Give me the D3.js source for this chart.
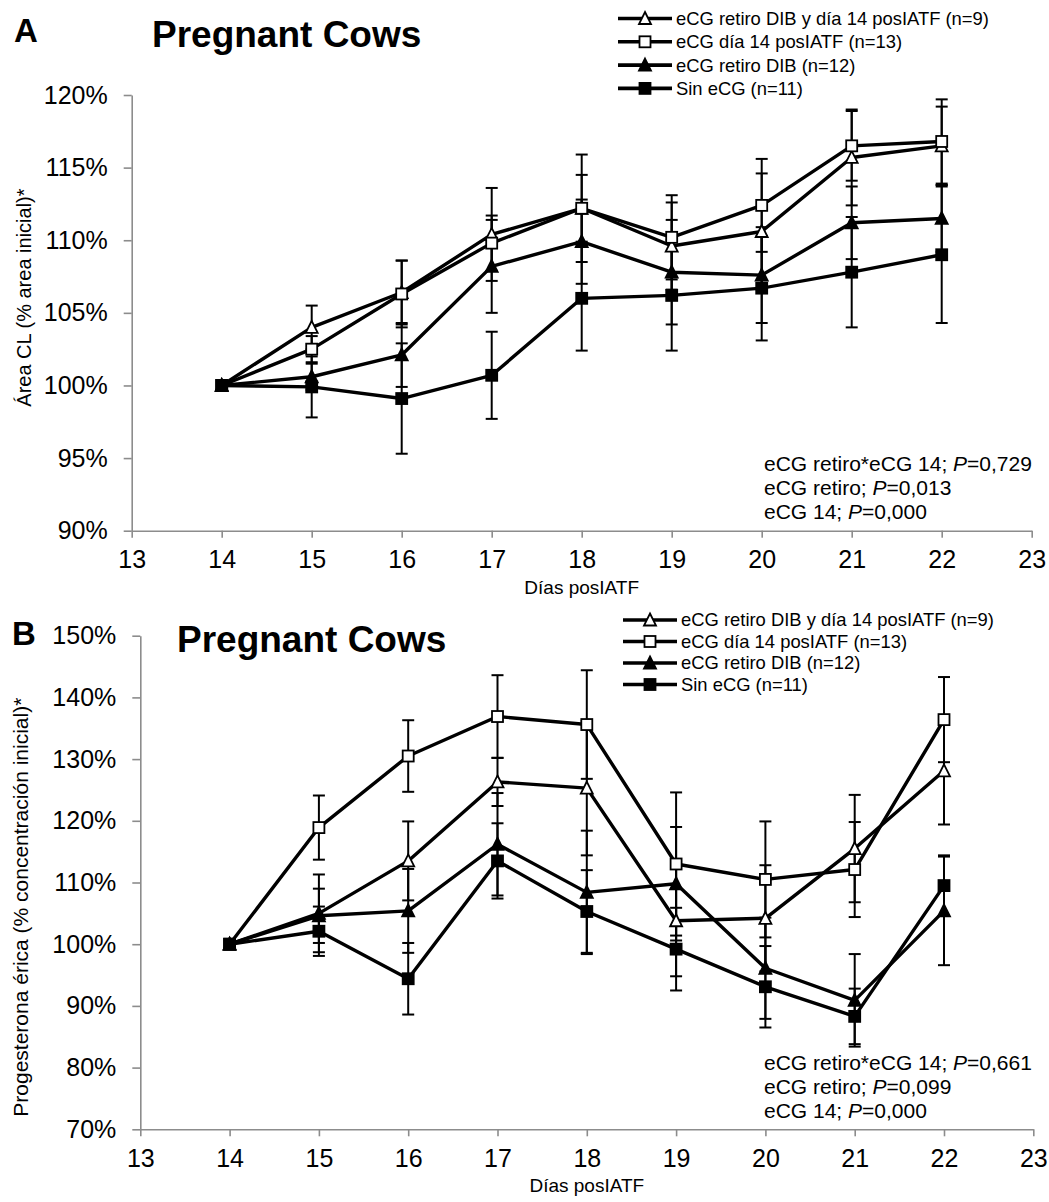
<!DOCTYPE html>
<html>
<head>
<meta charset="utf-8">
<script src="https://cdn.jsdelivr.net/npm/d3@7"></script>
<style>
  body { margin: 0; background: #fff; }
  svg { font-family: "Liberation Sans", Arial, sans-serif; display: block; }
  .axis path, .axis line { stroke: #8c8c8c; stroke-width: 1.6px; }
  .axis text { font-size: 25px; fill: #000; font-family: "Liberation Sans", Arial, sans-serif; }
</style>
</head>
<body>
<svg id="chart"></svg>
<script>
const width = 1049;
const height = 1202;

const days = [14, 15, 16, 17, 18, 19, 20, 21, 22];
const seriesNames = [
  "eCG retiro DIB y día 14 posIATF (n=9)",
  "eCG día 14 posIATF (n=13)",
  "eCG retiro DIB (n=12)",
  "Sin eCG (n=11)"
];
const seriesMarkers = ["triangleOpen", "squareOpen", "triangleFilled", "squareFilled"];

// Panel A: área del CL (% área inicial)
const areaBoth = [100, 104.0, 106.4, 110.4, 112.2, 109.6, 110.6, 115.7, 116.5];
const areaDay14 = [100, 102.5, 106.3, 109.8, 112.2, 110.2, 112.4, 116.5, 116.8];
const areaRetiro = [100, 100.6, 102.1, 108.2, 109.9, 107.8, 107.6, 111.2, 111.5];
const areaSin = [100, 99.9, 99.1, 100.7, 106.0, 106.2, 106.7, 107.8, 109.0];
const areaBothErr = [0, 1.5, 2.2, 3.2, 2.3, 3.0, 4.0, 3.3, 2.7];
const areaDay14Err = [0, 0.9, 2.3, 1.9, 3.7, 2.9, 3.2, 2.4, 2.9];
const areaRetiroErr = [0, 0.9, 2.2, 3.2, 2.9, 3.6, 3.3, 2.5, 2.3];
const areaSinErr = [0, 2.1, 3.8, 3.0, 3.6, 3.8, 3.6, 3.8, 4.7];

// Panel B: progesterona sérica (% concentración inicial)
const p4Both = [100, 105.0, 113.5, 126.3, 125.3, 103.8, 104.2, 115.5, 128.1];
const p4Day14 = [100, 118.9, 130.5, 136.9, 135.6, 113.0, 110.5, 112.1, 136.4];
const p4Retiro = [100, 104.6, 105.4, 116.2, 108.4, 109.8, 96.1, 90.9, 105.4];
const p4Sin = [100, 102.1, 94.4, 113.5, 105.3, 99.2, 93.1, 88.3, 109.5];
const p4BothErr = [0, 6.3, 6.4, 3.9, 10.9, 9.0, 8.6, 8.7, 8.7];
const p4Day14Err = [0, 5.2, 5.8, 6.7, 8.8, 11.6, 9.4, 7.7, 6.9];
const p4RetiroErr = [0, 4.4, 6.8, 8.3, 10.0, 9.2, 8.2, 7.5, 8.8];
const p4SinErr = [0, 4.0, 5.8, 6.1, 6.7, 6.7, 6.6, 4.5, 4.9];

const xTicks = [13, 14, 15, 16, 17, 18, 19, 20, 21, 22, 23];
const areaTicks = [90, 95, 100, 105, 110, 115, 120];
const p4Ticks = [70, 80, 90, 100, 110, 120, 130, 140, 150];
const statsA = ["eCG retiro*eCG 14; ", "eCG retiro; ", "eCG 14; "];
const statsAP = ["0,729", "0,013", "0,000"];
const statsBP = ["0,661", "0,099", "0,000"];

const svg = d3.select("#chart")
  .attr("width", width)
  .attr("height", height);

function drawMarker(g, type, x, y) {
  if (type.startsWith("square")) {
    const s = 11;
    g.append("rect")
      .attr("x", x - s / 2).attr("y", y - s / 2)
      .attr("width", s).attr("height", s)
      .attr("fill", type === "squareOpen" ? "#fff" : "#000")
      .attr("stroke", "#000").attr("stroke-width", 1.8);
  } else {
    const w = 12, h = 11;
    g.append("path")
      .attr("d", `M${x},${y - h / 2 - 1}L${x + w / 2},${y + h / 2}L${x - w / 2},${y + h / 2}Z`)
      .attr("fill", type === "triangleOpen" ? "#fff" : "#000")
      .attr("stroke", "#000").attr("stroke-width", 1.8)
      .attr("stroke-linejoin", "miter");
  }
}

function drawPanel(cfg) {
  const x = d3.scaleLinear().domain([13, 23]).range(cfg.xRange);
  const y = d3.scaleLinear().domain(cfg.yDomain).range(cfg.yRange);

  svg.append("g")
    .attr("class", "axis")
    .attr("transform", `translate(0,${cfg.yRange[0]})`)
    .call(d3.axisBottom(x).tickValues(xTicks).tickSize(7).tickSizeOuter(0).tickPadding(13))
    .selectAll("text").attr("dy", "0.71em");

  svg.append("g")
    .attr("class", "axis")
    .attr("transform", `translate(${cfg.xRange[0]},0)`)
    .call(d3.axisLeft(y).tickValues(cfg.yTicks).tickSize(8).tickSizeOuter(0).tickPadding(16)
      .tickFormat(d => d + "%"));

  const g = svg.append("g");

  // error bars
  cfg.series.forEach(s => {
    s.values.forEach((v, i) => {
      const e = s.errors[i];
      if (!e) return;
      const cx = x(days[i]);
      g.append("line")
        .attr("x1", cx).attr("x2", cx)
        .attr("y1", y(v - e)).attr("y2", y(v + e))
        .attr("stroke", "#000").attr("stroke-width", 2);
      [v - e, v + e].forEach(b => {
        g.append("line")
          .attr("x1", cx - 6).attr("x2", cx + 6)
          .attr("y1", y(b)).attr("y2", y(b))
          .attr("stroke", "#000").attr("stroke-width", 2);
      });
    });
  });

  const line = d3.line().x((d, i) => x(days[i])).y(d => y(d));

  cfg.series.forEach(s => {
    g.append("path")
      .datum(s.values)
      .attr("d", line)
      .attr("fill", "none")
      .attr("stroke", "#000")
      .attr("stroke-width", 3.4)
      .attr("stroke-linejoin", "round");
    s.values.forEach((v, i) => drawMarker(g, s.marker, x(days[i]), y(v)));
  });

  // legend
  seriesNames.forEach((name, i) => {
    const ly = cfg.legend.y + i * cfg.legend.step;
    svg.append("line")
      .attr("x1", cfg.legend.x).attr("x2", cfg.legend.x + 54)
      .attr("y1", ly).attr("y2", ly)
      .attr("stroke", "#000").attr("stroke-width", 3.6);
    drawMarker(svg, seriesMarkers[i], cfg.legend.x + 27, ly);
    svg.append("text")
      .attr("x", cfg.legend.x + 58).attr("y", ly)
      .attr("dy", "0.35em")
      .attr("font-size", 18.4)
      .text(name);
  });

  // statistics
  statsA.forEach((t, i) => {
    const txt = svg.append("text")
      .attr("x", 764)
      .attr("y", cfg.yRange[0] - 67 + i * 24)
      .attr("dy", "0.35em")
      .attr("font-size", 21);
    txt.append("tspan").text(t);
    txt.append("tspan").attr("font-style", "italic").text("P");
    txt.append("tspan").text("=" + cfg.pValues[i]);
  });

  // titles
  svg.append("text")
    .attr("x", cfg.letterX).attr("y", cfg.letterY)
    .attr("font-size", 33).attr("font-weight", "bold")
    .text(cfg.letter);
  svg.append("text")
    .attr("x", cfg.titleX).attr("y", cfg.titleY)
    .attr("font-size", 37).attr("font-weight", "bold")
    .text("Pregnant Cows");

  svg.append("text")
    .attr("x", (cfg.xRange[0] + cfg.xRange[1]) / 2)
    .attr("y", cfg.yRange[0] + 63)
    .attr("text-anchor", "middle")
    .attr("font-size", 19)
    .text("Días posIATF");

  svg.append("text")
    .attr("transform", `translate(${cfg.yLabelX},${cfg.yLabelY}) rotate(-90)`)
    .attr("font-size", cfg.yLabelSize)
    .text(cfg.yLabel);
}

drawPanel({
  xRange: [131.7, 1031.7],
  yDomain: [90, 120],
  yRange: [530.7, 95],
  yTicks: areaTicks,
  series: [
    { values: areaBoth, errors: areaBothErr, marker: "triangleOpen" },
    { values: areaDay14, errors: areaDay14Err, marker: "squareOpen" },
    { values: areaRetiro, errors: areaRetiroErr, marker: "triangleFilled" },
    { values: areaSin, errors: areaSinErr, marker: "squareFilled" }
  ],
  legend: { x: 618, y: 18.5, step: 23.3 },
  pValues: statsAP,
  letter: "A", letterX: 14, letterY: 41.7,
  titleX: 152, titleY: 46.7,
  yLabel: "Área CL (% area inicial)*", yLabelX: 31, yLabelY: 406.7, yLabelSize: 20
});

drawPanel({
  xRange: [140.3, 1033.3],
  yDomain: [70, 150],
  yRange: [1129.3, 635.7],
  yTicks: p4Ticks,
  series: [
    { values: p4Both, errors: p4BothErr, marker: "triangleOpen" },
    { values: p4Day14, errors: p4Day14Err, marker: "squareOpen" },
    { values: p4Retiro, errors: p4RetiroErr, marker: "triangleFilled" },
    { values: p4Sin, errors: p4SinErr, marker: "squareFilled" }
  ],
  legend: { x: 623, y: 620, step: 21.5 },
  pValues: statsBP,
  letter: "B", letterX: 12, letterY: 645,
  titleX: 177, titleY: 651.7,
  yLabel: "Progesterona érica (% concentración inicial)*", yLabelX: 28, yLabelY: 1116.7, yLabelSize: 21
});
</script>
</body>
</html>
